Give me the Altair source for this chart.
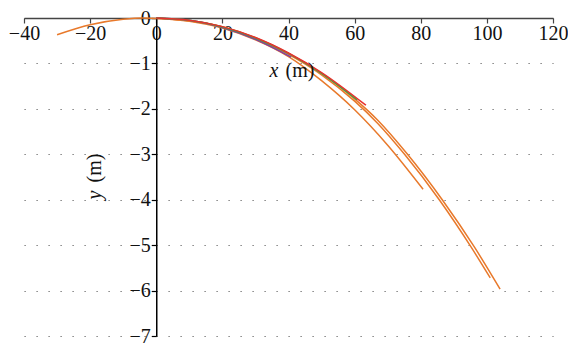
import altair as alt
import pandas as pd

# ---- readings from the reference (x in m, y in m) ----
a_x = [-30, -20, -10, -4, 0, 10, 20, 30, 40, 50, 60, 70, 80.7]
a_y = [-0.37, -0.15, -0.03, 0.0, -0.01, -0.07, -0.22, -0.48, -0.85, -1.38, -2.02, -2.80, -3.77]

b_x = [0, 20, 40, 50, 60, 67, 75.1, 85.6, 95.3, 101]
b_y = [0, -0.20, -0.80, -1.25, -1.83, -2.32, -3.0, -4.0, -5.05, -5.72]

c_x = [0, 20, 40, 50, 60, 67, 76, 86.5, 96.3, 104]
c_y = [0, -0.19, -0.78, -1.22, -1.78, -2.25, -3.0, -4.0, -5.05, -5.97]

p_x = [0, 10, 20, 30, 40.8]
p_y = [0, -0.05, -0.21, -0.47, -0.86]

g_x = [0, 10, 20, 30, 40, 50, 60.7]
g_y = [0, -0.049, -0.196, -0.44, -0.78, -1.22, -1.80]

r_x = [0, 10, 20, 30, 40, 50, 63.4]
r_y = [0, -0.048, -0.19, -0.43, -0.77, -1.20, -1.92]

x_ticks = [-40, -20, 0, 20, 40, 60, 80, 100, 120]
y_ticks = [0, -1, -2, -3, -4, -5, -6, -7]

series = [
    ("A", a_x, a_y, "#E8792B"),
    ("B", b_x, b_y, "#E8792B"),
    ("C", c_x, c_y, "#E8792B"),
    ("P", p_x, p_y, "#7A3FA8"),
    ("G", g_x, g_y, "#2DB04B"),
    ("R", r_x, r_y, "#E6322E"),
]

W, H = 529, 318
FONT = "Liberation Serif"
FS = 20
MINUS = "replace(format(datum.value, 'd'), '-', '\u2212')"

x_scale = alt.Scale(domain=[-40, 120], nice=False, zero=False)
y_scale = alt.Scale(domain=[-7, 0], nice=False, zero=False)

x_axis = alt.Axis(orient="bottom", offset=-H, values=x_ticks, title=None, grid=False,
                  domainColor="#444444", domainWidth=1.5, tickColor="#444444", tickWidth=1.2,
                  tickSize=5, labelFont=FONT, labelFontSize=FS, labelColor="#111111",
                  labelPadding=0, labelFlush=False, labelOverlap=False, labelExpr=MINUS)
y_axis = alt.Axis(orient="left", offset=-W * 40 / 160, values=y_ticks, title=None, grid=True,
                  gridDash=[1.2, 10.8], gridColor="#666666", gridWidth=1.2,
                  domainColor="#000000", domainWidth=1.5, tickColor="#000000", tickWidth=1.2,
                  tickSize=5, labelFont=FONT, labelFontSize=FS, labelColor="#111111",
                  labelPadding=1, labelFlush=False, labelOverlap=False, labelExpr=MINUS)

layers = []
for name, xs, ys, col in series:
    df = pd.DataFrame({"x": xs, "y": ys, "i": list(range(len(xs)))})
    layers.append(
        alt.Chart(df).mark_line(color=col, strokeWidth=1.5, interpolate="monotone").encode(
            x=alt.X("x:Q", scale=x_scale, axis=x_axis),
            y=alt.Y("y:Q", scale=y_scale, axis=y_axis),
            order=alt.Order("i:Q"),
        )
    )


def label(text, style, px, py, angle=0, align="center"):
    d = pd.DataFrame({"t": [text]})
    return alt.Chart(d).mark_text(font=FONT, fontSize=FS, fontStyle=style, color="#111111",
                                  angle=angle, align=align, baseline="middle").encode(
        text="t:N", x=alt.value(px), y=alt.value(py))


layers += [
    label("x", "italic", 250, 53),
    label("(m)", "normal", 276, 53),
    label("y", "italic", 71, 177, angle=270),
    label("(m)", "normal", 71, 150, angle=270),
]

chart = alt.layer(*layers).properties(
    width=W, height=H,
    padding={"left": 16, "top": 10, "right": 15, "bottom": 10},
    autosize=alt.AutoSizeParams(type="none"),
).configure_view(stroke=None)

chart.save("out.html", embed_options={"renderer": "svg", "actions": False})
